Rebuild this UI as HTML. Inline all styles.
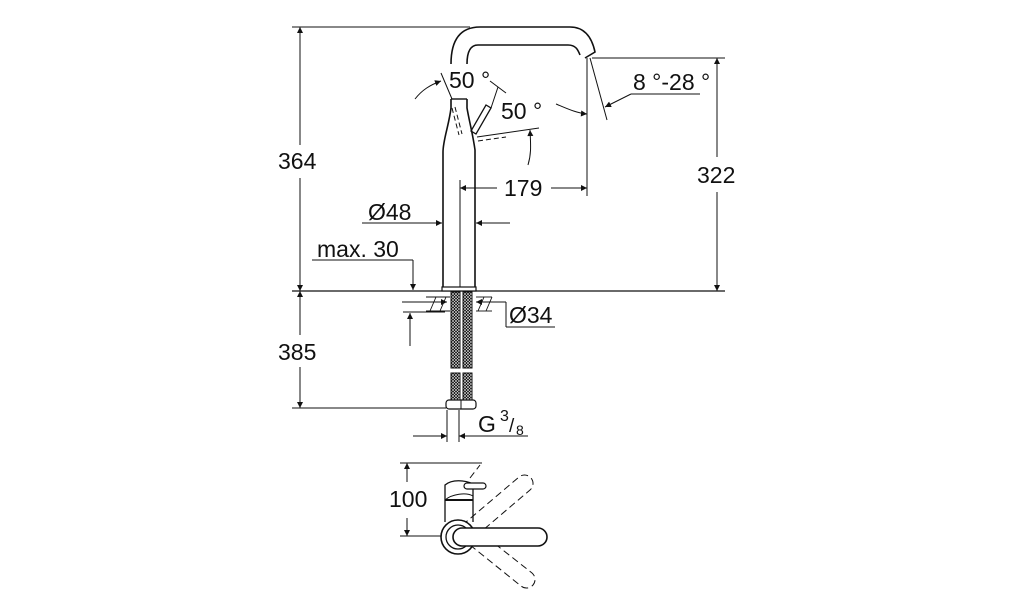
<!DOCTYPE html>
<html><head><style>
html,body{margin:0;padding:0;background:#fff;}
svg{display:block;}
text{font-family:"Liberation Sans",sans-serif;fill:#111;}
</style></head><body>
<svg width="1014" height="600" viewBox="0 0 1014 600" xmlns="http://www.w3.org/2000/svg">
<defs>
<marker id="a" viewBox="0 0 10 10" refX="10" refY="5" markerWidth="10" markerHeight="6" orient="auto-start-reverse" markerUnits="userSpaceOnUse"><path d="M0,0 L10,5 L0,10 z" fill="#111"/></marker>
<pattern id="hose" width="3" height="3" patternUnits="userSpaceOnUse"><rect width="3" height="3" fill="#fff"/><circle cx="1.5" cy="1.5" r="1" fill="none" stroke="#111" stroke-width="0.9"/></pattern>
</defs>
<g stroke="#111" stroke-width="1" fill="none">
<line x1="292" y1="27" x2="470" y2="27"/>
<line x1="292" y1="291" x2="725" y2="291" stroke-width="1.3"/>
<line x1="592" y1="58" x2="725" y2="58"/>
<line x1="300" y1="27" x2="300" y2="145" marker-start="url(#a)"/>
<line x1="300" y1="178" x2="300" y2="291" marker-end="url(#a)"/>
<line x1="717" y1="58" x2="717" y2="157" marker-start="url(#a)"/>
<line x1="717" y1="192" x2="717" y2="291" marker-end="url(#a)"/>
<path d="M451,64 C451,40 460,27 480,27 L570,27 C585,27 592,38 595,52 L585,58" stroke-width="1.6"/>
<path d="M467,64 C467,52 470,45 478,45 L568,45 C576,45 578,50 580,55" stroke-width="1.6"/>
<path d="M451,99 L451,108 C449,125 443,140 443,152 L443,291" stroke-width="1.6"/>
<path d="M467,99 L467,108 C469,120 473,135 475,150 L475,291" stroke-width="1.6"/>
<line x1="451" y1="99" x2="467" y2="99" stroke-width="1.4"/>
<line x1="460" y1="180" x2="460" y2="291"/>
<rect x="442" y="287" width="34" height="4" fill="#fff" stroke-width="1.2"/>
<path d="M471,131 L486,105 L491,108 L476,134 Z" stroke-width="1.3"/>
<line x1="491" y1="108" x2="498" y2="87"/>
<line x1="490" y1="81" x2="506" y2="93"/>
<line x1="441" y1="73" x2="452" y2="99"/>
<path d="M415,99 C422,90 430,85 441,81" marker-end="url(#a)"/>
<line x1="452" y1="108" x2="459" y2="135" stroke-dasharray="5,3"/>
<line x1="455" y1="107" x2="462" y2="134" stroke-dasharray="5,3"/>
<line x1="477" y1="137" x2="539" y2="128"/>
<line x1="478" y1="141" x2="506" y2="137" stroke-dasharray="5,3"/>
<path d="M528,165 C531,155 531,148 530,130" marker-end="url(#a)"/>
<path d="M556,104 C566,108 576,113 587,114" marker-end="url(#a)"/>
<line x1="587" y1="58" x2="587" y2="196"/>
<line x1="590" y1="58" x2="607" y2="120"/>
<line x1="700" y1="94" x2="631" y2="94"/>
<line x1="631" y1="94" x2="605" y2="107" marker-end="url(#a)"/>
<line x1="497" y1="188" x2="460" y2="188" marker-end="url(#a)"/>
<line x1="551" y1="188" x2="587" y2="188" marker-end="url(#a)"/>
<line x1="362" y1="223" x2="442" y2="223" marker-end="url(#a)"/>
<line x1="510" y1="223" x2="476" y2="223" marker-end="url(#a)"/>
<line x1="312" y1="260" x2="413" y2="260"/>
<line x1="413" y1="260" x2="413" y2="290" marker-end="url(#a)"/>
<g stroke-width="0.9">
<line x1="426" y1="297" x2="450" y2="297"/><line x1="426" y1="311" x2="450" y2="311"/>
<line x1="476" y1="297" x2="492" y2="297"/><line x1="476" y1="311" x2="492" y2="311"/>
<line x1="430" y1="311" x2="436" y2="297"/><line x1="440" y1="311" x2="446" y2="297"/>
<line x1="478" y1="311" x2="484" y2="297"/><line x1="486" y1="311" x2="492" y2="297"/>
</g>
<line x1="402" y1="302" x2="447" y2="302" marker-end="url(#a)"/>
<line x1="496" y1="302" x2="476" y2="302" marker-end="url(#a)"/>
<line x1="496" y1="302" x2="506" y2="302"/>
<line x1="506" y1="302" x2="506" y2="327"/>
<line x1="506" y1="327" x2="555" y2="327"/>
<line x1="403" y1="312" x2="445" y2="312"/>
<line x1="410" y1="346" x2="410" y2="313" marker-end="url(#a)"/>
<rect x="451" y="292" width="9" height="76" fill="url(#hose)"/>
<rect x="463" y="292" width="9" height="76" fill="url(#hose)"/>
<rect x="451" y="373" width="9" height="27" fill="url(#hose)"/>
<rect x="463" y="373" width="9" height="27" fill="url(#hose)"/>
<rect x="446" y="400" width="30" height="9" rx="3" fill="#fff" stroke-width="1.2"/>
<line x1="461" y1="400" x2="461" y2="409"/>
<line x1="300" y1="291" x2="300" y2="335" marker-start="url(#a)"/>
<line x1="300" y1="367" x2="300" y2="408" marker-end="url(#a)"/>
<line x1="292" y1="408" x2="446" y2="408"/>
<line x1="447" y1="410" x2="447" y2="442"/>
<line x1="459" y1="410" x2="459" y2="442"/>
<line x1="413" y1="436" x2="447" y2="436" marker-end="url(#a)"/>
<line x1="528" y1="436" x2="459" y2="436" marker-end="url(#a)"/>
<line x1="400" y1="463" x2="482" y2="463"/>
<line x1="400" y1="536" x2="445" y2="536"/>
<line x1="407" y1="482" x2="407" y2="463" marker-end="url(#a)"/>
<line x1="407" y1="518" x2="407" y2="536" marker-end="url(#a)"/>
<path d="M445,522 L445,485 C452,479 465,480 473,484 L473,522" stroke-width="1.3"/>
<line x1="445" y1="500" x2="473" y2="500" stroke-width="2"/>
<path d="M445,500 C452,494 466,492 473,496" stroke-width="1"/>
<rect x="464" y="483" width="22" height="6" rx="3" fill="#fff" stroke-width="1.2"/>
<g stroke-dasharray="7,4">
<path d="M476,536 L530,490 A8.5,8.5 0 0 0 519,477 L466,522"/>
<path d="M470,545 L521,586 A8.5,8.5 0 0 0 532,573 L480,532"/>
<line x1="470" y1="478" x2="480" y2="465"/>
</g>
<circle cx="458" cy="537" r="17" fill="#fff" stroke-width="1.6"/>
<circle cx="458" cy="537" r="12" fill="none" stroke-width="1.3"/>
<path d="M462,528 L538,528 A9,9 0 0 1 538,546 L462,546 A9,9 0 0 1 462,528 Z" fill="#fff" stroke-width="1.6"/>
</g>
<g font-size="23">
<text x="278" y="169">364</text>
<text x="697" y="183">322</text>
<text x="449" y="88">50 °</text>
<text x="501" y="119">50 °</text>
<text x="633" y="90">8 °-28 °</text>
<text x="504" y="196">179</text>
<text x="368" y="220">Ø48</text>
<text x="317" y="257">max. 30</text>
<text x="509" y="323">Ø34</text>
<text x="278" y="360">385</text>
<text x="478" y="432">G</text>
<text x="500" y="421" font-size="16">3</text>
<text x="509" y="432" font-size="19">/</text>
<text x="516" y="435" font-size="14">8</text>
<text x="389" y="507">100</text>
</g>
</svg>
</body></html>
